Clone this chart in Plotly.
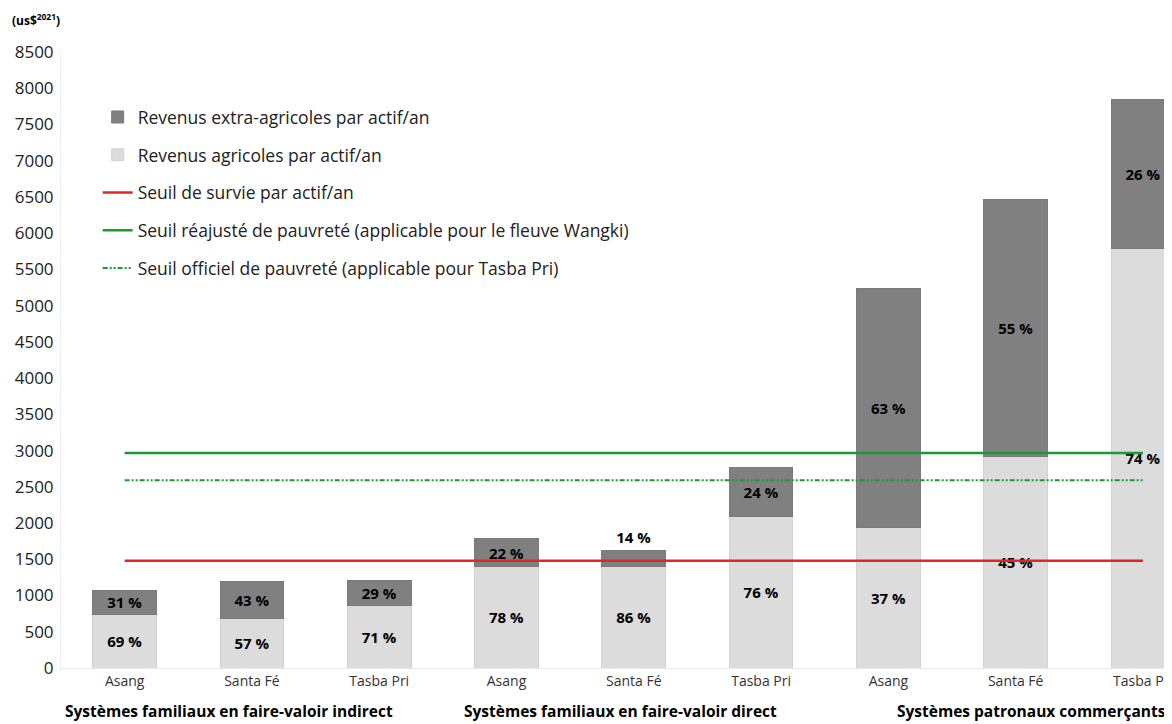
import plotly.graph_objects as go

# ---- data ----
positions = [0, 1, 2, 3, 4, 5, 6, 7, 8]
sites = ["Asang", "Santa Fé", "Tasba Pri", "Asang", "Santa Fé", "Tasba Pri", "Asang", "Santa Fé", "Tasba Pri"]
groups = ["Systèmes familiaux en faire-valoir indirect",
          "Systèmes familiaux en faire-valoir direct",
          "Systèmes patronaux commerçants"]
agri = [741, 686, 860, 1395, 1400, 2090, 1945, 2920, 5795]
extra = [335, 514, 350, 395, 228, 670, 3285, 3547, 2052]
agri_pct = ["69 %", "57 %", "71 %", "78 %", "86 %", "76 %", "37 %", "45 %", "74 %"]
extra_pct = ["31 %", "43 %", "29 %", "22 %", "14 %", "24 %", "63 %", "55 %", "26 %"]
seuil_survie = 1480
seuil_reajuste = 2965
seuil_officiel = 2590
y_ticks = list(range(0, 8501, 500))
line_x = [0, 8]

FONT = "Open Sans"

fig = go.Figure()

txtfont = dict(family=FONT, size=15, color="black", weight="bold")
extra_textpos = ["outside" if p == "14 %" else "inside" for p in extra_pct]

fig.add_trace(go.Bar(
    x=positions, y=agri, name="Revenus agricoles par actif/an",
    marker=dict(color="#DCDCDC", line=dict(color="#D2D2D2", width=1)),
    width=0.5, text=agri_pct, textposition="inside", insidetextanchor="middle",
    textfont=txtfont, constraintext="none", textangle=0,
    legendgroup="a", legendrank=2, hoverinfo="skip"))

fig.add_trace(go.Bar(
    x=positions, y=extra, name="Revenus extra-agricoles par actif/an",
    marker=dict(color="#808080", line=dict(color="#7A7A7A", width=1)),
    width=0.5, text=extra_pct, textposition=extra_textpos, insidetextanchor="middle",
    textfont=txtfont, insidetextfont=txtfont, outsidetextfont=txtfont,
    constraintext="none", textangle=0, cliponaxis=False,
    legendgroup="b", legendrank=1, hoverinfo="skip"))

fig.add_trace(go.Scatter(
    x=line_x, y=[seuil_survie] * 2, mode="lines", name="Seuil de survie par actif/an",
    line=dict(color="#E0262B", width=2.5), legendgroup="c", legendrank=3, hoverinfo="skip"))

fig.add_trace(go.Scatter(
    x=line_x, y=[seuil_reajuste] * 2, mode="lines",
    name="Seuil réajusté de pauvreté (applicable pour le fleuve Wangki)",
    line=dict(color="#179B32", width=2.5), legendgroup="d", legendrank=4, hoverinfo="skip"))

fig.add_trace(go.Scatter(
    x=line_x, y=[seuil_officiel] * 2, mode="lines",
    name="Seuil officiel de pauvreté (applicable pour Tasba Pri)",
    line=dict(color="#179B32", width=2, dash="5px,2px,2px,2px,2px,2px"),
    legendgroup="e", legendrank=5, hoverinfo="skip"))

# group labels
group_x = [-0.487, 2.647, 6.049]
for gx, g in zip(group_x, groups):
    fig.add_annotation(x=gx, xref="x", y=-0.0698, yref="paper", text=g, showarrow=False,
                       xanchor="left", yanchor="middle",
                       font=dict(family=FONT, size=15.5, color="black", weight="bold"))

fig.add_annotation(x=-0.046, xref="paper", y=1.052, yref="paper", yanchor="middle",
                   text="(us$<sup>2021</sup>)", showarrow=False, xanchor="left",
                   font=dict(family=FONT, size=12, color="black", weight="bold"))

fig.update_layout(
    width=1164, height=716,
    margin=dict(l=53, r=0, t=44, b=56),
    paper_bgcolor="white", plot_bgcolor="white",
    barmode="stack", bargap=0.5,
    showlegend=True,
    legend=dict(x=0.033, y=0.9235, xanchor="left", yanchor="top",
                font=dict(family=FONT, size=17.5, color="#222222"),
                tracegroupgap=12, bgcolor="rgba(0,0,0,0)", traceorder="grouped"),
    xaxis=dict(range=[-0.5, 8.228], tickmode="array", tickvals=positions, ticktext=sites,
               showgrid=False, zeroline=False, showline=True, linecolor="#E8E8E8",
               tickfont=dict(family=FONT, size=14, color="#333333"), ticks="",
               ticklabeloverflow="allow"),
    yaxis=dict(range=[0, 8500], tickmode="array", tickvals=y_ticks,
               showgrid=False, zeroline=False, showline=True, linecolor="#F0F0F0",
               tickfont=dict(family=FONT, size=17, color="#222222"), ticks="",
               ticklabelstandoff=3),
    font=dict(family=FONT),
)

fig.write_html("out.html")
